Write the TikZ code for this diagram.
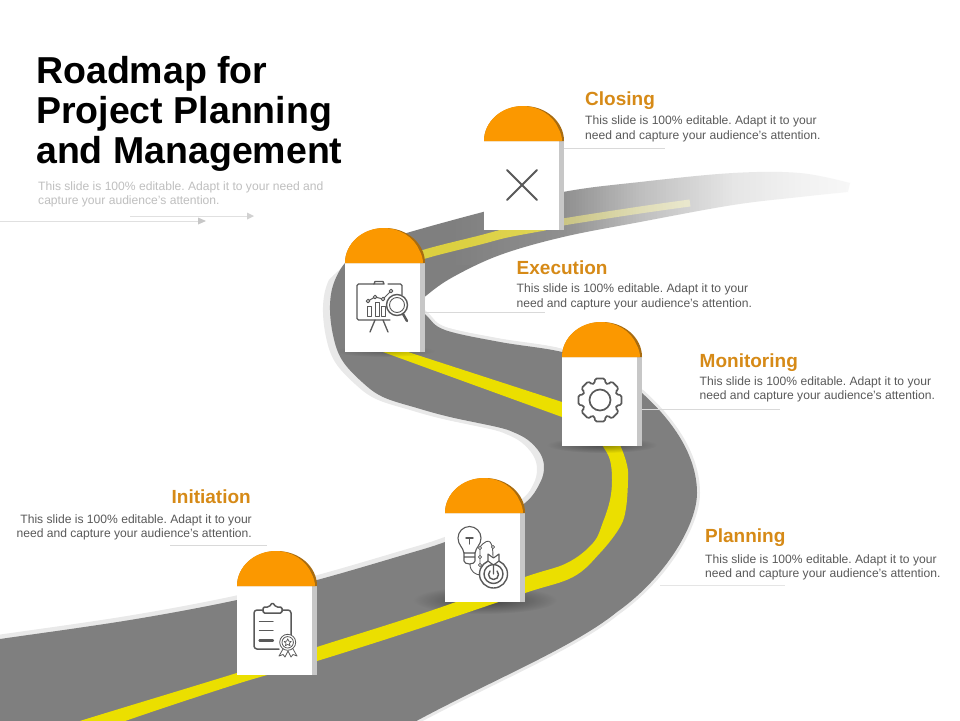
\documentclass[tikz,border=0pt]{standalone}
\usepackage{fontspec}
\setmainfont{Liberation Sans}
\usetikzlibrary{fadings}
\AtBeginDocument{\frenchspacing}
\definecolor{roadgray}{HTML}{7F7F7F}
\definecolor{roadedge}{HTML}{E9E9E9}
\definecolor{lane}{HTML}{EBDF00}
\definecolor{lanepale}{HTML}{DCD040}
\definecolor{lanedim}{HTML}{C2BC70}
\definecolor{dome}{HTML}{FB9800}
\definecolor{domeedge}{HTML}{A86C10}
\definecolor{heading}{HTML}{D68A17}
\definecolor{bodytext}{HTML}{595959}
\definecolor{paletext}{HTML}{BFBFBF}
\definecolor{icon}{HTML}{595959}
\tikzfading[name=softblob,inner color=transparent!20,outer color=transparent!100]
\tikzset{
  cardbody/.style={fill=white,draw=none},
  cardside/.style={fill=black!22,draw=none},
  titletext/.style={anchor=north west,inner sep=0pt,align=left,font=\fontsize{37.5}{40}\selectfont\bfseries,text=black},
  headtext/.style={inner sep=0pt,font=\fontsize{19}{22}\selectfont\bfseries,text=heading},
  bodyblock/.style={inner sep=0pt,font=\fontsize{12.1}{14.5}\selectfont,text=bodytext},
  leader/.style={draw=black!15,line width=.7pt},
  iconline/.style={draw=icon,line width=1.3pt,line cap=round,line join=round},
  softshadow/.style={fill=black,path fading=softblob},
}
\newcommand{\roadedgepath}{
  plot[smooth,tension=.6] coordinates {(-20,642)(0,639)(130,620)(237,600)(317,580)(400,556)(445,542)(490,523)(525,503)(540,483)(544,467)(540,453)(528,440)(513,432)(497,427)(450,417)(417,408)(383,397)(362,382)(342,360)(333,335)(330,305)(335,280)(350,258)(380,242)(410,232)(483,212)(563,192)(640,182)(733,173)(800,173)(850,183)}
  -- plot[smooth,tension=.6] coordinates {(848,192)(800,197)(733,205)(640,222)(563,237)(500,255)(453,277)(427,295)(418,305)(427,316)(445,330)(500,342)(562,352)(600,367)(642,393)}
  .. controls (672,420) and (697,455) .. (697,493)
  .. controls (697,525) and (665,578) .. (617,612)
  .. controls (570,650) and (480,685) .. (400,730)
  -- (-20,730) -- cycle}
\newcommand{\milestone}[3]{% name, x, y-top
  \fill[cardside] (#2+74,#3+35) rectangle (#2+80,#3+124);
  \node[cardbody,anchor=north west,minimum width=75pt,minimum height=89pt,inner sep=0pt] (#1) at (#2,#3+35) {};
  \fill[domeedge] (#2,#3+35) arc[start angle=180,end angle=360,x radius=40,y radius=35] -- cycle;
  \fill[dome] (#2,#3+35) arc[start angle=180,end angle=340,x radius=38.5,y radius=35] .. controls (#2+76.5,#3+26) and (#2+78,#3+31) .. (#2+78,#3+35) -- cycle;
}
\begin{document}
\begin{tikzpicture}[x=1pt,y=-1pt]
\useasboundingbox (0,0) rectangle (960,720);
\fill[white] (0,0) rectangle (960,720);
% road edge band
\begin{scope}
  \clip (-30,740) -- (-30,340) -- (300,340) -- (318,290) -- (345,265) -- (425,265) -- (425,308) -- (960,308) -- (960,740) -- cycle;
  \fill[roadedge,xshift=-7pt,yshift=-2pt] \roadedgepath;
  \fill[roadedge,xshift=-3pt,yshift=4pt] \roadedgepath;
  \path[draw=roadedge,fill=roadedge,line width=6pt] \roadedgepath;
\end{scope}
% road
\fill[roadgray] \roadedgepath;
\begin{scope}
  \clip \roadedgepath;
  \fill[softshadow,opacity=.6] (485,600) ellipse [x radius=72,y radius=14];
\end{scope}
% lane
\fill[lane] plot[smooth,tension=.6] coordinates {(60,728)(83,720)(240,672)(317,647)(430,611)(525,577)(567,563)(593,543)(603,522)(610,500)(612,480)(610,460)(602,445)(590,430)}
  -- plot[smooth,tension=.6] coordinates {(610,430)(620,445)(627,465)(628,480)(626,508)(620,527)(600,553)(573,577)(525,593)(430,625)(317,661)(240,683)(128,720)(105,730)} -- cycle;
\fill[lane] (380,345) -- (405,345) -- (408,352) -- (562,402) -- (600,425) -- (600,440) -- (562,417) -- (383,352) -- cycle;
\draw[lanedim,line width=7pt] plot[smooth,tension=.6] coordinates {(540,227)(563,222)(640,210)(690,203)};
\draw[lanepale,line width=9pt] plot[smooth,tension=.6] coordinates {(365,285)(385,268)(425,254)(480,240)(507,233)(545,226)};
% shadows at card feet
\begin{scope}
  \clip \roadedgepath;
  \fill[softshadow,opacity=.5] (602,445) ellipse [x radius=55,y radius=8];
  \fill[softshadow,opacity=.3] (385,351) ellipse [x radius=50,y radius=6];
\end{scope}
% fade out of the far end of the road, in strips over the white ground
\foreach \xx [evaluate=\xx as \aa using {\xx<563 ? (\xx-450)/113*0.13 : (\xx<640 ? 0.13+(\xx-563)/77*0.37 : (\xx<733 ? 0.5+(\xx-640)/93*0.31 : (\xx<800 ? 0.81+(\xx-733)/67*0.09 : 0.9+(\xx-800)/55*0.05)))}] in {450,453,...,852}
  \fill[white,opacity=\aa] (\xx,150) rectangle (\xx+3,265);
% cards
\milestone{closing}{484}{106}
\milestone{execution}{345}{228}
\milestone{monitoring}{562}{322}
\milestone{planning}{445}{478}
\milestone{initiation}{237}{551}
% leader lines
\coordinate (closingfrom) at (564,148);
\coordinate (closingend) at (665,148);
\coordinate (executionfrom) at (425,312);
\coordinate (executionend) at (545,312);
\coordinate (monitoringfrom) at (642,409);
\coordinate (monitoringend) at (780,409);
\coordinate (planningstart) at (660,585);
\coordinate (planningend) at (785,585);
\coordinate (initiationstart) at (170,545);
\coordinate (initiationend) at (267,545);
\draw[leader] (closingfrom) -- (closingend);
\draw[leader] (executionfrom) -- (executionend);
\draw[leader] (monitoringfrom) -- (monitoringend);
\draw[leader,black!10] (planningstart) -- (planningend);
\draw[leader] (initiationstart) -- (initiationend);
% top-left arrows
\coordinate (arrowa) at (130,216);
\coordinate (arrowb) at (247,216);
\coordinate (arrowc) at (0,221);
\coordinate (arrowd) at (198,221);
\draw[black!12,line width=.7pt] (arrowa) -- (arrowb);
\fill[black!18] (247,212.5) -- (254,216) -- (247,219.5) -- cycle;
\draw[black!12,line width=.7pt] (arrowc) -- (arrowd);
\fill[black!22] (198,217.5) -- (206,221) -- (198,224.5) -- cycle;
% texts
\node[titletext] (title) at (36,56) {Roadmap for\\Project Planning\\and Management};
\node[bodyblock,text=paletext,anchor=north west,align=left] (desc) at (38,181.5) {This slide is 100\% editable. Adapt it to your need and\\capture your audience’s attention.};
\node[headtext,anchor=base west] (h1) at (585,105) {Closing};
\node[bodyblock,anchor=north west,align=left] (b1) at (585,115.7) {This slide is 100\% editable. Adapt it to your\\need and capture your audience’s attention.};
\node[headtext,anchor=base west] (h2) at (516.5,274) {Execution};
\node[bodyblock,anchor=north west,align=left] (b2) at (516.5,284) {This slide is 100\% editable. Adapt it to your\\need and capture your audience’s attention.};
\node[headtext,anchor=base west] (h3) at (699.5,367) {Monitoring};
\node[bodyblock,anchor=north west,align=left] (b3) at (699.5,376.5) {This slide is 100\% editable. Adapt it to your\\need and capture your audience’s attention.};
\node[headtext,anchor=base west] (h4) at (705,542) {Planning};
\node[bodyblock,anchor=north west,align=left] (b4) at (705,554.5) {This slide is 100\% editable. Adapt it to your\\need and capture your audience’s attention.};
\node[headtext,anchor=base east] (h5) at (251,503) {Initiation};
\node[bodyblock,anchor=north east,align=right] (b5) at (252,514.5) {This slide is 100\% editable. Adapt it to your\\need and capture your audience’s attention.};
% icon: cross
\draw[iconline,line width=1.8pt] (507,170) -- (537,200) (537,170) -- (507,200);
% icon: presentation board
\draw[iconline,rounded corners=1.5pt] (388,284) -- (402,284) -- (402,295) (390,320) -- (357,320) -- (357,284) -- (374,284);
\draw[iconline] (374,284) -- (375,281.5) -- (383,281.5) -- (384,284) -- cycle;
\draw[iconline] (375,320) -- (370,332) (383,320) -- (388,332);
\draw[iconline,line width=1pt] (368,301) -- (375,297) -- (383,299) -- (391,291);
\foreach \px/\py in {368/301,375/297,383/299,391/291} \filldraw[iconline,line width=1pt,fill=white] (\px,\py) circle (1.8);
\draw[iconline,line width=1pt] (367,306) rectangle (371,316) (375,302) rectangle (379,316) (381,306) rectangle (385,316);
\draw[iconline,line width=1.4pt,fill=white] (397,305) circle (10.5);
\draw[iconline,line width=.9pt] (397,305) circle (7.5);
\draw[iconline,line width=2.4pt] (403,314) -- (407,321);
% icon: gear
\draw[iconline,line width=1.7pt] (600,400) circle (10.5);
\begin{scope}[shift={(600,400)}]
  \draw[iconline,line width=1.7pt,rounded corners=1.5pt]
   (-13:22) -- (13:22) -- (18:17.5) -- (27:17.5) -- (32:22) -- (58:22) -- (63:17.5) -- (72:17.5) -- (77:22) -- (103:22) -- (108:17.5) -- (117:17.5) -- (122:22) -- (148:22) -- (153:17.5) -- (162:17.5) -- (167:22) -- (193:22) -- (198:17.5) -- (207:17.5) -- (212:22) -- (238:22) -- (243:17.5) -- (252:17.5) -- (257:22) -- (283:22) -- (288:17.5) -- (297:17.5) -- (302:22) -- (328:22) -- (333:17.5) -- (342:17.5) -- cycle;
\end{scope}
% icon: bulb and target
\draw[iconline,line width=1.1pt] (464,553) .. controls (463,547) and (458,545) .. (458,538) arc[start angle=180,end angle=360,radius=11.5] .. controls (481,545) and (476,547) .. (475,553) -- cycle;
\draw[iconline,line width=1.1pt] (464,553) -- (464,561) arc[start angle=180,end angle=0,x radius=5.5,y radius=3] -- (475,553) (464,557) -- (475,557);
\draw[iconline,line width=1.4pt] (466,538) -- (473,538) (469.5,538) -- (469.5,544);
\draw[iconline,line width=.9pt] (470,564) .. controls (470,572) and (476,575) .. (481,575);
\draw[iconline,line width=.9pt] (480,547) .. controls (490,535) and (493,543) .. (493,557) (480,547) -- (480,566);
\foreach \px/\py in {480/548,480/557,480/565,493/547} \filldraw[iconline,line width=.8pt,fill=white] (\px,\py) circle (1.6);
\draw[iconline,line width=1.4pt,fill=white] (493.5,574) circle (14);
\draw[iconline,line width=1.4pt] (493.5,574) circle (9.5);
\draw[iconline,line width=1.4pt] (490,571) arc[start angle=225,end angle=-45,radius=5] (493.5,574) -- (493.5,558);
\draw[iconline,line width=1.1pt,fill=white] (488,554) -- (493.5,558) -- (499,554) -- (499,561) -- (493.5,565) -- (488,561) -- cycle;
% icon: clipboard
\draw[iconline,line width=1.5pt,rounded corners=3pt] (263,610) -- (254,610) -- (254,649) -- (279,649) (291,636) -- (291,610) -- (282,610);
\draw[iconline,line width=1.5pt,rounded corners=1.5pt] (263,613) -- (263,607) -- (269,607) -- (272.5,602.5) -- (276,607) -- (282,607) -- (282,613) -- cycle;
\draw[iconline,line width=1.3pt] (259.5,621.5) -- (273,621.5) (259.5,630.5) -- (273,630.5);
\draw[iconline,line width=2.2pt] (259.5,640.5) -- (273,640.5);
\draw[iconline,line width=.8pt] (283,649) -- (279,656) -- (283,654.5) -- (285,657) -- (288,651) -- (291,657) -- (293,654.5) -- (297,656) -- (293,649);
\draw[iconline,line width=.8pt,fill=white] (287.7,642.3) circle (8);
\draw[iconline,line width=.8pt] (287.7,642.3) circle (5.7);
\draw[iconline,line width=.7pt] (287.7,638.8) -- (288.8,641.2) -- (291.2,641.5) -- (289.4,643.2) -- (290,645.7) -- (287.7,644.4) -- (285.4,645.7) -- (286,643.2) -- (284.2,641.5) -- (286.6,641.2) -- cycle;
\end{tikzpicture}
\end{document}
